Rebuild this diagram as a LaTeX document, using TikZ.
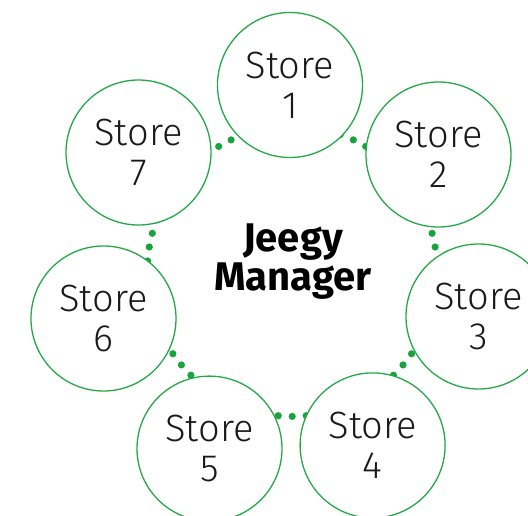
\documentclass[tikz,border=0pt]{standalone}
\usepackage{fontspec}
\setmainfont{Fira Sans}[UprightFont={* Light},BoldFont={* Bold}]
\usetikzlibrary{calc}
\definecolor{ringgreen}{RGB}{37,168,72}
\definecolor{dotgreen}{RGB}{24,163,62}
\definecolor{txt}{RGB}{26,26,26}
\begin{document}
\begin{tikzpicture}[x=1pt,y=-1pt,
  store/.style={circle,draw=ringgreen,line width=1.3pt,fill=white,minimum size=145pt,inner sep=0pt,align=center,text=txt,font=\fontsize{38}{40}\selectfont},
  ringdot/.style={fill=dotgreen},
  title/.style={align=center,text=black,font=\bfseries\fontsize{40}{39}\selectfont}]
\useasboundingbox (0,0) rectangle (528,515);
\clip (0,0) rectangle (528,515);
\coordinate (ring) at (292.2,271.4);
\foreach \i in {0,...,64}
  \fill[ringdot] ($(ring)+({145*sin(\i*5.5384615)},{145*cos(\i*5.5384615)})$) circle (3.6);
\node[store] (s1) at (290,85) {Store\\1};
\node[store] (s2) at (438.5,154.5) {Store\\2};
\node[store] (s3) at (478.5,316.5) {Store\\3};
\node[store] (s4) at (372.6,445.4) {Store\\4};
\node[store] (s5) at (209.5,448.6) {Store\\5};
\node[store] (s6) at (103.5,318.5) {Store\\6};
\node[store] (s7) at (138.5,152.5) {Store\\7};
\node[title] (mgr) at (293,262) {Jeegy\\Manager};
\end{tikzpicture}
\end{document}
